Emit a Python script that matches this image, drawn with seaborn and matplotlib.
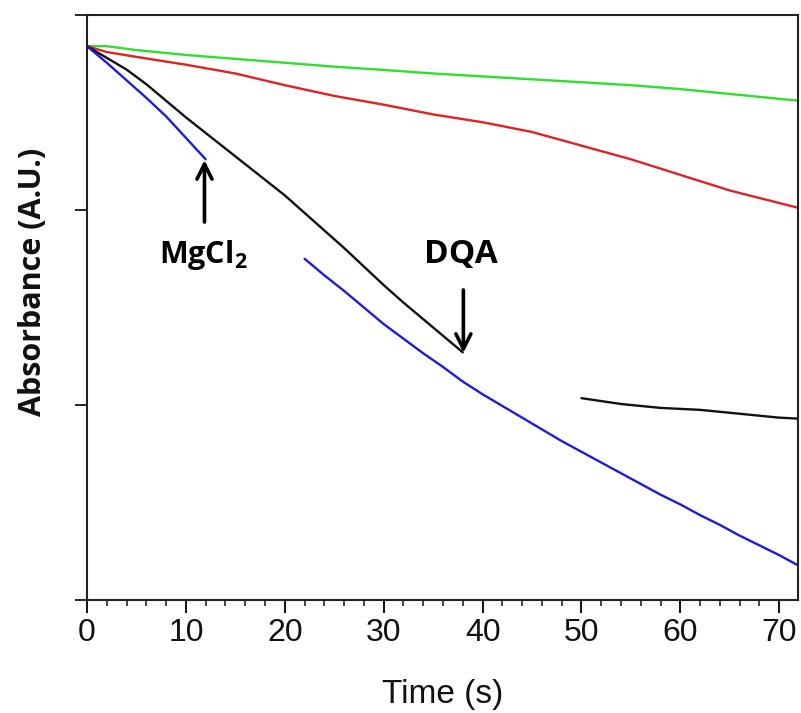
import numpy as np
import pandas as pd
import matplotlib
matplotlib.use("Agg")
import matplotlib.pyplot as plt
import seaborn as sns
from matplotlib.ticker import MultipleLocator

# ---- data ----
t_green = [0, 2, 5, 10, 15, 20, 25, 30, 35, 40, 45, 50, 55, 60, 65, 72]
a_green = [2.84, 2.84, 2.82, 2.795, 2.775, 2.755, 2.735, 2.718, 2.70, 2.685, 2.67, 2.655, 2.64, 2.62, 2.595, 2.56]

t_red = [0, 2, 5, 10, 15, 20, 25, 30, 35, 40, 45, 50, 55, 60, 65, 72]
a_red = [2.84, 2.81, 2.785, 2.745, 2.70, 2.64, 2.585, 2.54, 2.49, 2.45, 2.40, 2.33, 2.26, 2.18, 2.10, 2.01]

t_black1 = [0, 2, 4, 6, 8, 10, 12, 14, 16, 18, 20, 22, 24, 26, 28, 30, 32, 34, 36, 38]
a_black1 = [2.84, 2.78, 2.72, 2.645, 2.56, 2.475, 2.395, 2.315, 2.235, 2.155, 2.075, 1.985, 1.895, 1.805,
            1.71, 1.615, 1.525, 1.44, 1.355, 1.27]

t_black2 = [50, 52, 54, 56, 58, 60, 62, 64, 66, 68, 70, 72]
a_black2 = [1.035, 1.02, 1.005, 0.995, 0.985, 0.98, 0.975, 0.965, 0.955, 0.945, 0.935, 0.93]

t_blue1 = [0, 2, 4, 6, 8, 10, 12]
a_blue1 = [2.84, 2.755, 2.665, 2.575, 2.48, 2.37, 2.26]

t_blue2 = [22, 24, 26, 28, 30, 32, 34, 36, 38, 40, 42, 44, 46, 48, 50, 52, 54, 56, 58, 60,
           62, 64, 66, 68, 70, 72]
a_blue2 = [1.75, 1.665, 1.585, 1.50, 1.415, 1.34, 1.265, 1.195, 1.12, 1.055, 0.995, 0.935, 0.875,
           0.815, 0.76, 0.705, 0.65, 0.595, 0.54, 0.49, 0.435, 0.385, 0.33, 0.28, 0.23, 0.175]

x_ticks = [0, 10, 20, 30, 40, 50, 60, 70]

segments = [
    ("green", t_green, a_green, "#2ee02e"),
    ("red", t_red, a_red, "#e02222"),
    ("black1", t_black1, a_black1, "#111111"),
    ("black2", t_black2, a_black2, "#111111"),
    ("blue1", t_blue1, a_blue1, "#1c1ce0"),
    ("blue2", t_blue2, a_blue2, "#1c1ce0"),
]

sns.set_theme(style="white")
plt.rcParams["font.family"] = ["Liberation Sans", "DejaVu Sans"]
plt.rcParams["mathtext.fontset"] = "custom"
plt.rcParams["mathtext.bf"] = "Open Sans:bold"
plt.rcParams["mathtext.rm"] = "Open Sans:bold"

fig = plt.figure(figsize=(8.01, 7.13), dpi=100)
ax = fig.add_axes([0.1086, 0.1585, 0.8877, 0.8205])

for name, t, a, c in segments:
    df = pd.DataFrame({"t": t, "a": a})
    sns.lineplot(data=df, x="t", y="a", color=c, lw=1.7, ax=ax, estimator=None, sort=False)

ax.set_xlim(0, 71.9)
ax.set_ylim(0, 3)
ax.set_xticks(x_ticks)
ax.xaxis.set_minor_locator(MultipleLocator(2))
ax.set_yticks([0, 1, 2, 3])
ax.set_yticklabels([])
ax.tick_params(axis="x", which="major", direction="out", length=9, width=1.4,
               labelsize=23, pad=4, colors="#111111", bottom=True)
ax.tick_params(axis="x", which="minor", direction="out", length=4.5, width=1.2,
               bottom=True)
ax.tick_params(axis="y", which="major", direction="out", length=9, width=1.4, left=True)
for s in ax.spines.values():
    s.set_visible(True)
    s.set_linewidth(1.5)
    s.set_color("#222222")

ax.set_xlabel("Time (s)", fontsize=24, labelpad=22, color="#111111")
ax.set_ylabel("Absorbance (A.U.)", fontsize=22, fontweight="bold",
              family=["Open Sans", "DejaVu Sans"], color="#111111")
ax.yaxis.set_label_coords(-0.055, 0.544)

# annotations
ax.annotate("", xy=(11.88, 2.256), xytext=(11.88, 1.938),
            arrowprops=dict(arrowstyle="->,head_length=0.9,head_width=0.45", lw=2.6, color="black",
                            shrinkA=0, shrinkB=0))
ax.annotate("", xy=(38.06, 1.267), xytext=(38.06, 1.59),
            arrowprops=dict(arrowstyle="->,head_length=0.9,head_width=0.45", lw=2.6, color="black",
                            shrinkA=0, shrinkB=0))
ax.text(11.8, 1.77, r"$\mathbf{MgCl_2}$", fontsize=22, ha="center", va="center", color="black")
ax.text(37.8, 1.77, "DQA", fontsize=24, fontweight="bold", family=["Open Sans", "DejaVu Sans"],
        ha="center", va="center", color="black")

fig.savefig("out.png", dpi=100, facecolor="white")
